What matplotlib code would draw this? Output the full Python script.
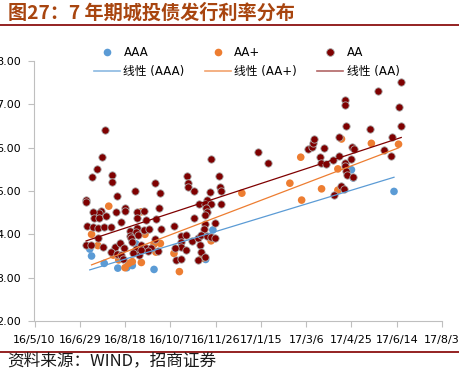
import numpy as np
import pandas as pd
import matplotlib
matplotlib.use("Agg")
import matplotlib.pyplot as plt
import matplotlib.dates as mdates
from matplotlib.lines import Line2D

plt.rcParams['font.family'] = ['DejaVu Sans', 'Noto Sans CJK SC']

BASE_DATE = pd.Timestamp('2016-05-10')

# 日期（距 2016-05-10 的天数）与发行利率 (%)
AAA_DAYS = [61, 63, 77, 92, 102, 108, 112, 132, 189, 197, 350, 352, 397]
AAA_RATE = [3.66, 3.50, 3.33, 3.22, 3.23, 3.28, 3.78, 3.19, 3.42, 4.10, 5.49, 5.30, 4.99]

AAP_DAYS = [82, 63, 70, 118, 122, 132, 139, 134, 87, 93, 104, 100, 118, 108,
            154, 160, 195, 185, 229, 282, 294, 295, 317, 335, 335, 339, 372, 402]
AAP_RATE = [4.65, 4.00, 3.74, 4.52, 4.00, 3.77, 3.79, 3.59, 3.52, 3.41, 3.33, 3.23, 3.35, 3.37,
            3.56, 3.14, 3.85, 3.45, 4.95, 5.18, 5.78, 4.79, 5.05, 5.51, 5.02, 6.20, 6.10, 6.08]

AA_DAYS = [57, 57, 63, 69, 75, 78, 86, 86, 91, 111, 133, 139, 168, 169, 170, 176,
           195, 204, 205, 206, 194, 191, 247,
           100, 100, 113, 121, 137, 73, 71, 65, 66, 71, 79, 90, 96, 113, 123, 134,
           58, 65, 70, 77, 84, 105, 113, 112, 121, 126, 140, 70, 105, 107, 114, 133,
           57, 62, 76, 89, 94, 108, 99, 118, 123, 129, 136, 112, 125, 85, 91, 96, 115,
           109, 118, 98,
           154, 182, 188, 195, 206, 189, 191, 188, 176, 188, 199, 187, 162, 167, 174,
           181, 184, 190, 195, 199, 162, 162, 167, 155, 183, 184, 188, 181, 156, 162,
           258, 302, 306, 307, 309, 320, 315, 316, 322, 330, 336, 336, 343, 343, 344,
           345, 352, 350, 351, 353, 338, 342, 331, 343, 343, 344, 370, 379, 405, 402,
           405, 395, 386, 394]
AA_RATE = [4.80, 4.75, 5.32, 5.51, 5.78, 6.41, 5.37, 5.20, 4.89, 5.00, 5.18, 4.95, 5.34, 5.18, 5.09, 5.00,
           5.75, 5.34, 5.10, 4.99, 4.98, 4.80, 5.90,
           4.61, 4.55, 4.52, 4.54, 4.60, 4.54, 4.49, 4.51, 4.37, 4.37, 4.42, 4.51, 4.29, 4.38, 4.33, 4.35,
           4.19, 4.18, 4.14, 4.16, 4.16, 4.08, 4.15, 4.06, 4.09, 4.12, 4.12, 3.91, 3.97, 3.91, 3.98, 3.89,
           3.75, 3.75, 3.71, 3.71, 3.79, 3.82, 3.68, 3.75, 3.69, 3.69, 3.62, 3.66, 3.62, 3.60, 3.54, 3.52, 3.52,
           3.56, 3.64, 3.43,
           4.20, 4.70, 4.70, 4.70, 4.70, 4.60, 4.52, 4.45, 4.37, 4.24, 4.27, 4.12, 3.96, 3.98, 3.85,
           3.91, 3.98, 3.95, 3.93, 3.91, 3.83, 3.70, 3.64, 3.68, 3.75, 3.60, 3.47, 3.41, 3.41, 3.42,
           5.65, 5.96, 6.01, 6.10, 6.21, 5.99, 5.79, 5.65, 5.63, 5.71, 5.80, 6.25, 5.65, 5.57, 5.46,
           5.37, 5.32, 5.75, 6.01, 5.98, 5.12, 5.05, 4.90, 7.10, 6.98, 6.50, 6.42, 7.31, 7.51, 6.95,
           6.50, 6.25, 5.95, 5.80]

SERIES = ['AAA', 'AA+', 'AA']
COLORS = ['#5B9BD5', '#ED7D31', '#7F0000']
TICK_STEP = 50
N_TICKS = 10


def to_dates(days):
    return BASE_DATE + pd.to_timedelta(np.array(days), unit='D')


fig = plt.figure(figsize=(4.6, 3.69), dpi=100)
ax = fig.add_axes([34.5 / 460, 48 / 369, 407.5 / 460, 260 / 369])

data = [(AAA_DAYS, AAA_RATE), (AAP_DAYS, AAP_RATE), (AA_DAYS, AA_RATE)]
for (days, rate), name, col in zip(data, SERIES, COLORS):
    x = to_dates(days)
    if name == 'AA':
        ax.scatter(x, rate, s=28, color=col, edgecolors='#A8A8A8', linewidths=0.6, zorder=3)
    else:
        ax.scatter(x, rate, s=30, color=col, edgecolors='none', zorder=2)

# 线性趋势线
for (days, rate), col in zip(data, COLORS):
    xn = mdates.date2num(to_dates(days))
    k, b = np.polyfit(xn, rate, 1)
    xs = np.array([xn.min(), xn.max()])
    ax.plot(mdates.num2date(xs), k * xs + b, color=col, lw=0.9, zorder=4)

ticks = [BASE_DATE + pd.Timedelta(days=TICK_STEP * i) for i in range(N_TICKS)]
ax.set_xlim(ticks[0], ticks[-1])
ax.set_xticks(ticks)
ax.set_xticklabels([f"{t.year % 100}/{t.month}/{t.day}" for t in ticks])
ax.set_ylim(2, 8)
ax.set_yticks(np.arange(2, 8.01, 1))
ax.set_yticklabels([f"{v:.2f}" for v in np.arange(2, 8.01, 1)])

for s in ['top', 'right']:
    ax.spines[s].set_visible(False)
for s in ['left', 'bottom']:
    ax.spines[s].set_color('#BFBFBF')
ax.tick_params(axis='both', colors='#BFBFBF', labelcolor='black', labelsize=8, length=4, direction='out')
ax.tick_params(axis='y', pad=5.5)
ax.tick_params(axis='x', pad=6)

handles = [
    Line2D([], [], ls='none', marker='o', ms=5.5, color=COLORS[0], mec='none'),
    Line2D([], [], color=COLORS[0], lw=1.2, alpha=0.7),
    Line2D([], [], ls='none', marker='o', ms=5.5, color=COLORS[1], mec='none'),
    Line2D([], [], color=COLORS[1], lw=1.2, alpha=0.7),
    Line2D([], [], ls='none', marker='o', ms=5.5, color=COLORS[2], mec='#A8A8A8', mew=0.6),
    Line2D([], [], color=COLORS[2], lw=1.2, alpha=0.6),
]
labels = ['AAA', '线性 (AAA)', 'AA+', '线性 (AA+)', 'AA', '线性 (AA)']
fig.legend(handles, labels, loc='upper left', bbox_to_anchor=(88 / 460, 1 - 40 / 369),
           ncol=3, frameon=False, fontsize=8.5, borderpad=0, handlelength=2.2,
           handletextpad=0.3, columnspacing=1.7, labelspacing=0.55)

fig.text(8 / 460, 1 - 13 / 369, '图27：7 年期城投债发行利率分布', fontsize=13.8, fontweight='bold',
         color='#A8450F', va='center', ha='left', family=['Noto Sans CJK SC'])
fig.add_artist(Line2D([0, 1], [1 - 25 / 369, 1 - 25 / 369], color='#8B1010', lw=1.3))
fig.add_artist(Line2D([0, 1], [1 - 351.5 / 369, 1 - 351.5 / 369], color='#8B1010', lw=1.3))
fig.text(7 / 460, 1 - 361 / 369, '资料来源：WIND，招商证券', fontsize=12, color='#1A1A1A',
         va='center', ha='left', family=['Noto Sans CJK SC'])

fig.savefig('out.png', dpi=100)
